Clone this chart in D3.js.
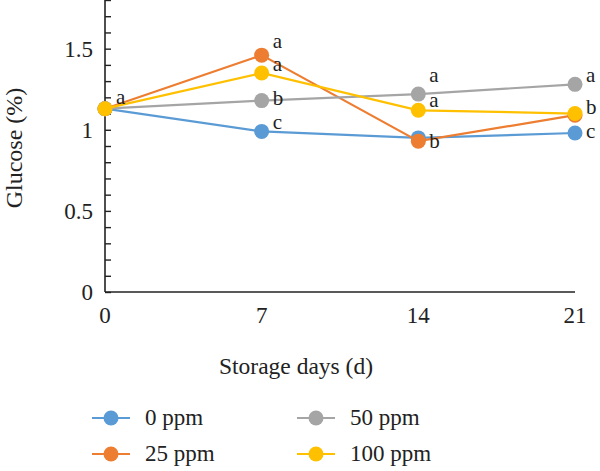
<!DOCTYPE html>
<html>
<head>
<meta charset="utf-8">
<script src="https://cdn.jsdelivr.net/npm/d3@7"></script>
<style>
  body { margin: 0; background: #fff; }
</style>
</head>
<body>
<svg id="chart" width="600" height="471"></svg>
<script>
// data
var days = [0, 7, 14, 21];
var seriesNames = ["0 ppm", "25 ppm", "50 ppm", "100 ppm"];
var ppm0   = [1.13, 0.99, 0.95, 0.98];
var ppm25  = [1.13, 1.46, 0.93, 1.09];
var ppm50  = [1.13, 1.18, 1.22, 1.28];
var ppm100 = [1.13, 1.35, 1.12, 1.10];
// significance letters per series (null = no letter shown)
var letters0   = [null, "c", null, "c"];
var letters25  = [null, "a", "b", null];
var letters50  = [null, "b", "a", "a"];
var letters100 = ["a", "a", "a", "b"];
var yTicks = [0, 0.5, 1, 1.5];

var colors = ["#5b9bd5", "#ed7d31", "#a5a5a5", "#ffc000"];
var serif = "'Liberation Serif', 'DejaVu Serif', serif";
// vertical nudge of the letters, per series/day
var letterDy = [
  [0, 3, 0, 10],
  [0, -2.5, 12, 0],
  [0, 9, -7.5, 3],
  [0, 3, 1.5, 5]
];

var series = [ppm0, ppm25, ppm50, ppm100].map(function (vals, i) {
  return {
    name: seriesNames[i],
    color: colors[i],
    values: vals,
    letters: [letters0, letters25, letters50, letters100][i],
    dy: letterDy[i]
  };
});

var svg = d3.select("#chart")
    .attr("font-family", serif)
    .style("font-family", serif);

var x = d3.scaleLinear().domain([0, 21]).range([105, 575]);
var y = d3.scaleLinear().domain([0, 1.8]).range([292, 0]);

// y axis with minor ticks pointing inward
var yAxis = d3.axisRight(y)
    .tickValues(d3.range(0, 1.81, 0.1))
    .tickSize(6)
    .tickFormat("");
svg.append("g")
    .attr("transform", "translate(" + x(0) + ",0)")
    .call(yAxis)
    .call(g => g.selectAll("line").attr("stroke", "#222").attr("stroke-width", 1.4))
    .call(g => g.select(".domain").attr("stroke", "#222").attr("stroke-width", 1.6).attr("d", "M0,0V" + y(0)));

svg.append("g").selectAll("text")
    .data(yTicks)
    .enter().append("text")
    .attr("x", 93)
    .attr("y", d => y(d))
    .attr("dy", "0.35em")
    .attr("text-anchor", "end")
    .attr("fill", "#222")
    .style("font-family", serif)
    .style("font-size", "23px")
    .text(d => d);

// x axis: plain line + labels
svg.append("line")
    .attr("x1", x(0)).attr("x2", x(21))
    .attr("y1", y(0)).attr("y2", y(0))
    .attr("stroke", "#222").attr("stroke-width", 1.6);

svg.append("g").selectAll("text")
    .data(days)
    .enter().append("text")
    .attr("x", d => x(d))
    .attr("y", 323)
    .attr("text-anchor", "middle")
    .attr("fill", "#222")
    .style("font-family", serif)
    .style("font-size", "23px")
    .text(d => d);

// axis titles
svg.append("text")
    .attr("transform", "translate(22,148) rotate(-90)")
    .attr("text-anchor", "middle")
    .attr("fill", "#222")
    .style("font-family", serif)
    .style("font-size", "24px")
    .text("Glucose (%)");

svg.append("text")
    .attr("x", 296).attr("y", 374)
    .attr("text-anchor", "middle")
    .attr("fill", "#222")
    .style("font-family", serif)
    .style("font-size", "23.5px")
    .text("Storage days (d)");

// lines and markers
var line = d3.line()
    .x((d, i) => x(days[i]))
    .y(d => y(d));

var groups = svg.append("g").selectAll("g")
    .data(series)
    .enter().append("g");

groups.append("path")
    .attr("d", d => line(d.values))
    .attr("fill", "none")
    .attr("stroke", d => d.color)
    .attr("stroke-width", 2.2);

groups.selectAll("circle")
    .data(d => d.values.map(v => ({v: v, c: d.color})))
    .enter().append("circle")
    .attr("cx", (d, i) => x(days[i]))
    .attr("cy", d => y(d.v))
    .attr("r", 7.5)
    .attr("fill", d => d.c);

// significance letters
var labelData = [];
series.forEach(function (s) {
  s.letters.forEach(function (l, i) {
    if (l) labelData.push({t: l, day: days[i], v: s.values[i], dy: s.dy[i]});
  });
});
svg.append("g").selectAll("text")
    .data(labelData)
    .enter().append("text")
    .attr("x", d => x(d.day) + 11)
    .attr("y", d => y(d.v) - 5 + d.dy)
    .attr("fill", "#222")
    .style("font-family", serif)
    .style("font-size", "21px")
    .text(d => d.t);

// legend
var legend = svg.append("g").selectAll("g")
    .data(series)
    .enter().append("g")
    .attr("transform", (d, i) => "translate(" + (i < 2 ? 92 : 297) + "," + (i % 2 === 0 ? 418 : 454) + ")");

legend.append("line")
    .attr("x1", 0).attr("x2", 38)
    .attr("stroke", d => d.color)
    .attr("stroke-width", 2.2);
legend.append("circle")
    .attr("cx", 19).attr("r", 7.5)
    .attr("fill", d => d.color);
legend.append("text")
    .attr("x", 53)
    .attr("dy", "0.32em")
    .attr("fill", "#222")
    .style("font-family", serif)
    .style("font-size", "23px")
    .text(d => d.name);
</script>
</body>
</html>
